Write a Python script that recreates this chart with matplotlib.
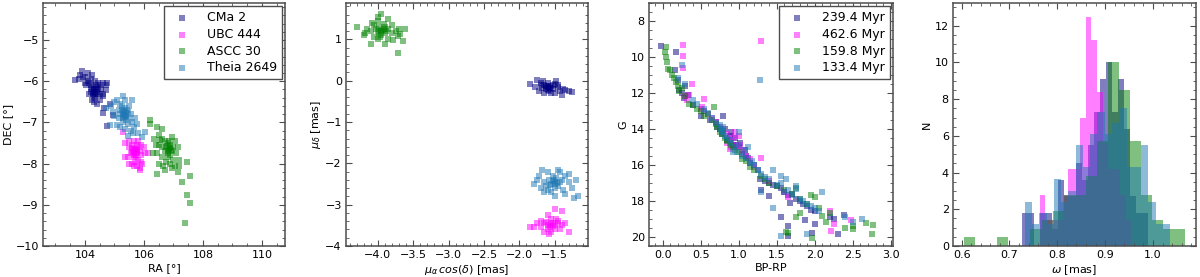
import numpy as np
import matplotlib
matplotlib.use("Agg")
import matplotlib.pyplot as plt
from matplotlib.ticker import AutoMinorLocator, MultipleLocator

# ---------------- data ----------------
names = ["CMa 2", "UBC 444", "ASCC 30", "Theia 2649"]
ages = ["239.4 Myr", "462.6 Myr", "159.8 Myr", "133.4 Myr"]
colors = ["navy", "magenta", "green", "tab:blue"]

# RA / DEC (deg)
cma2_radec = [(104.2,-6.1),(104.3,-6.2),(104.35,-6.25),(104.25,-6.15),(104.4,-6.3),(104.3,-6.35),
              (104.2,-6.25),(104.15,-6.05),(104.1,-6.0),(104.4,-6.15),(104.45,-6.2),(104.35,-6.4),
              (104.3,-6.5),(104.25,-6.45),(104.5,-6.3),(104.5,-6.1),(104.55,-6.2),(104.6,-6.3),
              (104.0,-5.9),(104.05,-6.1),(104.2,-5.95),(104.1,-5.8),(103.9,-5.75),(103.95,-5.9),
              (103.8,-5.95),(103.65,-5.97),(104.25,-5.85),(104.35,-6.0),(104.45,-6.05),(104.6,-6.05),
              (104.7,-6.1),(104.72,-6.22),(104.5,-6.45),(104.4,-6.55),(104.15,-6.3),(104.28,-6.3),
              (104.38,-6.1),(104.62,-6.35),(104.75,-6.05),(104.65,-6.65),(104.85,-6.55),(104.95,-6.83),
              (104.75,-7.08),(104.6,-6.78),(104.0,-6.05),(103.85,-5.85),
              (104.32,-6.22),(104.27,-6.28),(104.37,-6.18),(104.22,-6.18),(104.33,-6.32),(104.42,-6.25)]
ubc444_radec = [(105.7,-7.7),(105.65,-7.65),(105.75,-7.75),(105.6,-7.7),(105.8,-7.6),(105.7,-7.8),
                (105.65,-7.85),(105.55,-7.75),(105.85,-7.7),(105.75,-7.55),(105.6,-7.55),(105.5,-7.6),
                (105.9,-7.8),(105.8,-7.9),(105.7,-7.95),(105.6,-8.0),(105.5,-8.0),(105.75,-8.05),
                (105.85,-8.1),(105.65,-8.05),(105.45,-7.85),(105.35,-7.85),(106.0,-7.6),(106.05,-7.75),
                (106.15,-7.75),(105.9,-7.55),(105.5,-7.45),(105.35,-7.5),(105.65,-7.45),(105.8,-7.45),
                (105.95,-8.0),(105.7,-7.65),(105.62,-7.72),(105.78,-7.68),(105.72,-7.82),(105.58,-7.62),
                (105.85,-8.15),(105.3,-7.24),(105.9,-7.95),
                (105.68,-7.72),(105.73,-7.66),(105.66,-7.78),(105.76,-7.72)]
ascc30_radec = [(106.2,-6.93),(106.22,-7.05),(106.45,-7.12),(106.62,-7.15),(106.5,-7.3),(106.55,-7.42),
                (106.7,-7.45),(106.8,-7.5),(106.9,-7.55),(106.85,-7.65),(106.75,-7.6),(106.95,-7.7),
                (107.0,-7.6),(106.9,-7.8),(106.8,-7.75),(106.7,-7.7),(106.6,-7.6),(106.5,-7.55),
                (106.45,-7.75),(106.4,-7.55),(106.6,-7.85),(106.75,-7.95),(106.9,-8.0),(107.0,-7.9),
                (107.1,-7.75),(107.15,-7.6),(107.05,-8.05),(107.2,-8.05),(107.15,-8.2),(106.95,-8.1),
                (106.5,-8.0),(106.45,-8.25),(106.65,-8.05),(107.45,-7.95),(107.55,-8.3),(107.3,-8.45),
                (107.45,-8.75),(107.55,-8.95),(107.4,-9.45),(106.85,-7.45),(107.05,-7.45),(106.35,-7.4),
                (106.95,-7.35),(106.8,-7.85),(106.6,-7.4),(107.2,-7.9),(106.7,-8.15),(106.3,-7.75),
                (106.88,-7.62),(106.82,-7.7),(106.92,-7.66),(106.78,-7.58)]
theia_radec = [(105.3,-6.75),(105.35,-6.8),(105.25,-6.7),(105.4,-6.85),(105.3,-6.9),(105.2,-6.8),
               (105.45,-6.75),(105.35,-6.65),(105.25,-6.6),(105.4,-6.95),(105.5,-6.9),(105.15,-6.7),
               (105.3,-7.0),(105.45,-7.05),(105.55,-6.8),(105.6,-7.0),(105.2,-6.55),(105.28,-6.35),
               (105.35,-6.45),(105.6,-6.45),(105.0,-6.5),(104.9,-6.6),(104.7,-6.65),(105.1,-6.45),
               (105.0,-6.85),(104.85,-7.06),(105.08,-7.06),(105.2,-7.1),(105.65,-7.1),(105.7,-6.9),
               (105.75,-7.05),(105.92,-7.36),(106.03,-7.22),(105.64,-7.26),(105.47,-7.34),(105.35,-7.15),
               (105.5,-6.6),(104.95,-6.75),(105.15,-6.9),(105.42,-6.7),(105.32,-6.82),(105.55,-7.2),
               (105.8,-7.25),(105.33,-6.72),(105.38,-6.78),(105.28,-6.84),(105.36,-6.88)]

# proper motions (mas/yr)
cma2_pm = [(-1.85,-0.08),(-1.75,0.02),(-1.7,-0.05),(-1.65,-0.1),(-1.6,-0.15),(-1.55,-0.12),(-1.5,-0.08),
           (-1.62,-0.2),(-1.58,-0.25),(-1.52,-0.2),(-1.68,-0.18),(-1.72,-0.25),(-1.65,-0.3),(-1.55,-0.3),
           (-1.45,-0.15),(-1.42,-0.25),(-1.48,0.0),(-1.6,-0.05),(-1.35,-0.22),(-1.3,-0.25),(-1.25,-0.27),
           (-1.4,-0.35),(-1.5,-0.3),(-1.62,-0.12),(-1.57,-0.17),(-1.78,-0.15),(-1.66,0.0),(-1.53,-0.1),
           (-1.6,-0.22),(-1.45,-0.1),(-1.7,-0.1),(-1.38,-0.2),(-1.59,-0.14),(-1.56,-0.18),(-1.63,-0.16)]
ubc444_pm = [(-1.85,-3.55),(-1.8,-3.55),(-1.7,-3.4),(-1.65,-3.45),(-1.6,-3.5),(-1.55,-3.45),(-1.5,-3.5),
             (-1.6,-3.6),(-1.55,-3.65),(-1.5,-3.6),(-1.45,-3.45),(-1.4,-3.5),(-1.45,-3.4),(-1.55,-3.35),
             (-1.6,-3.25),(-1.5,-3.1),(-1.4,-3.15),(-1.7,-3.55),(-1.65,-3.65),(-1.58,-3.72),(-1.35,-3.45),
             (-1.3,-3.65),(-1.62,-3.42),(-1.52,-3.52),(-1.57,-3.55),(-1.48,-3.35),(-1.75,-3.45),(-1.42,-3.6),
             (-1.56,-3.48),(-1.53,-3.44)]
ascc30_pm = [(-4.3,1.3),(-4.2,1.1),(-4.15,1.25),(-4.1,0.88),(-4.05,1.05),(-4.05,1.35),(-4.0,1.45),
             (-4.0,1.55),(-3.95,1.62),(-3.85,1.5),(-3.9,1.3),(-3.95,1.2),(-3.9,1.15),(-3.85,1.25),
             (-4.0,1.2),(-3.95,1.1),(-3.9,0.9),(-3.85,1.0),(-3.8,1.15),(-3.75,1.2),(-3.7,1.25),
             (-3.65,0.95),(-3.62,1.25),(-3.72,1.08),(-3.71,0.67),(-3.78,0.98),(-4.0,1.0),(-4.1,1.2),
             (-3.98,1.3),(-3.92,1.38),(-4.02,1.25),(-3.88,1.2),(-3.97,1.05),(-4.08,1.4),(-3.8,1.35),
             (-4.18,1.15),(-3.68,1.12),(-3.94,1.22),(-3.99,1.16),(-3.91,1.26)]
theia_pm = [(-1.8,-2.5),(-1.72,-2.3),(-1.7,-2.6),(-1.65,-2.45),(-1.6,-2.2),(-1.58,-2.4),(-1.55,-2.5),
            (-1.5,-2.45),(-1.48,-2.35),(-1.45,-2.55),(-1.4,-2.4),(-1.42,-2.2),(-1.5,-2.6),(-1.55,-2.7),
            (-1.6,-2.65),(-1.65,-2.7),(-1.35,-2.3),(-1.3,-2.45),(-1.25,-2.6),(-1.3,-2.25),(-1.2,-2.4),
            (-1.45,-2.15),(-1.52,-2.3),(-1.62,-2.55),(-1.38,-2.65),(-1.23,-2.85),(-1.17,-2.8),(-1.35,-2.75),
            (-1.5,-2.8),(-1.68,-2.15),(-1.75,-2.4),(-1.47,-2.48),(-1.53,-2.42),(-1.57,-2.52),(-1.43,-2.45),
            (-1.49,-2.5),(-1.51,-2.4)]

# colour-magnitude diagram
cma2_bprp = [-0.02,0.18,0.16,0.2,0.22,0.3,0.25,0.28,0.33,0.4,0.5,0.55,0.62,0.7,0.75,0.8,0.78,0.85,0.9,0.92,
             0.95,1.0,1.05,1.08,1.12,1.15,1.2,1.25,1.28,1.35,1.4,1.45,1.5,1.55,1.6,1.65,1.68,1.7,1.75,1.8,
             1.85,1.9,1.95,2.0,1.3,1.4,1.55,1.65,1.65,1.87,1.97,2.0,2.3,2.38,2.25,2.2,0.72,1.02,
             0.82,0.88,0.97,1.1]
cma2_g = [9.4,9.75,10.7,11.3,11.85,11.6,12.0,12.3,12.1,12.7,13.3,13.0,13.5,13.6,14.0,13.3,14.3,14.6,14.2,14.9,
          14.5,15.0,15.4,15.2,15.6,15.9,16.0,16.3,16.8,16.9,17.0,17.1,17.2,17.3,17.5,17.7,18.1,17.6,17.9,18.0,
          18.2,18.3,18.5,18.6,17.4,17.75,18.9,19.4,19.95,19.1,19.8,19.3,19.85,18.8,19.0,18.9,13.9,14.8,
          14.0,14.4,14.9,15.5]
ubc444_bprp = [0.27,0.27,0.27,1.3,0.38,0.55,0.3,0.32,0.35,0.5,0.52,0.6,0.65,0.7,0.75,0.8,0.85,0.88,0.9,0.92,
               0.95,0.98,1.0,1.05,0.9,0.85,1.1,1.15,1.3,1.2,1.4,1.6,1.65,2.2,2.22,2.25,2.48,0.95,1.02,0.88]
ubc444_g = [9.35,9.95,10.6,9.1,11.5,12.35,12.2,12.4,12.1,12.9,12.8,13.2,13.4,13.6,13.9,14.1,14.3,14.6,14.7,14.5,
            14.9,15.0,14.4,15.2,15.0,14.8,15.5,15.7,15.65,16.1,16.9,17.5,17.8,18.6,19.7,19.3,19.05,14.2,14.9,15.1]
ascc30_bprp = [0.04,0.03,0.05,0.06,0.07,0.1,0.12,0.15,0.18,0.2,0.25,0.22,0.3,0.35,0.4,0.45,0.5,0.55,0.6,0.65,
               0.7,0.72,0.75,0.78,0.8,0.82,0.85,0.88,0.9,0.95,1.0,1.05,1.1,1.15,1.2,1.3,1.35,1.4,1.5,1.6,
               1.7,1.75,1.8,1.9,1.95,2.0,2.05,1.62,1.97,1.8,1.75,2.1,2.15,2.5,2.5,2.68,2.75,2.77,2.4,1.65,
               2.2,0.68,0.92,0.76,0.84]
ascc30_g = [9.45,9.75,10.0,10.3,10.65,10.75,11.0,11.2,11.4,11.6,11.75,11.9,12.2,12.6,12.7,12.9,13.0,13.3,13.2,13.5,
            13.75,13.9,14.0,14.3,14.1,14.5,14.6,14.8,14.9,15.2,15.3,15.7,15.8,16.1,16.3,16.6,16.8,17.0,17.2,17.4,
            17.6,17.3,17.9,18.2,17.7,17.8,18.4,19.75,20.05,18.7,18.9,18.85,19.2,19.4,19.6,19.25,19.85,19.35,19.5,19.8,
            18.7,12.8,15.0,14.2,14.7]
theia_bprp = [0.25,1.28,0.2,0.3,0.4,0.45,0.55,0.6,0.65,0.7,0.75,0.78,0.8,0.82,0.85,0.88,0.9,0.95,0.98,1.0,
              1.05,1.1,1.12,1.15,1.2,1.25,1.3,1.35,1.4,1.45,1.5,1.55,1.6,1.65,1.7,1.75,1.8,1.85,1.9,1.95,
              2.0,2.05,2.1,1.45,1.55,1.9,2.62,2.5,1.3,1.55,1.75,1.0,0.92,0.8,1.62,2.4,0.77,1.08,1.18]
theia_g = [10.45,11.3,11.2,11.5,12.4,12.6,12.9,13.1,13.4,13.7,13.8,14.1,14.2,14.4,14.5,14.6,14.8,15.0,15.3,14.9,
           15.5,15.6,15.0,15.9,16.0,16.3,16.5,16.7,16.8,16.3,17.1,17.0,17.5,17.4,17.7,17.35,17.9,18.0,18.2,18.3,
           18.4,18.6,17.5,18.4,19.95,19.85,19.0,19.2,17.5,16.65,17.2,14.2,15.3,13.9,16.8,18.9,14.0,15.2,15.8]

# parallax histograms (density): bin range + heights
cma2_hist_range = (0.727, 0.9895)
cma2_hist = [1.8,1.8,0,1.8,1.8,0.9,3.6,2.7,2.7,4.5,3.6,5.5,7.3,9.1,10.0,7.3,9.1,6.4,2.7,1.8,1.8]
ubc444_hist_range = (0.763, 0.955)
ubc444_hist = [2.8,1.4,1.4,1.4,2.8,4.2,4.2,7.0,12.5,11.2,8.4,5.6,4.2,4.2,2.8,1.4]
ascc30_hist_range = (0.605, 1.068)
ascc30_hist = [0.47,0,0,0.47,0,0,0.95,1.4,1.9,2.8,2.8,3.8,5.7,10.0,8.5,5.7,2.8,1.4,0.95,0.95]
theia_hist_range = (0.732, 1.036)
theia_hist = [2.4,1.2,1.8,1.2,3.65,2.4,3.0,5.5,4.3,6.1,7.3,6.1,6.7,7.5,4.3,4.3,5.5,2.4,1.2,1.2]

# ---------------- figure ----------------
plt.rcParams['font.family'] = ['DejaVu Sans']
fig = plt.figure(figsize=(12, 2.77), dpi=100)
W, H = 1200, 277
def box(l, r, t=3, b=246):
    return [l / W, (H - b) / H, (r - l) / W, (b - t) / H]

axes = [fig.add_axes(box(43, 285)), fig.add_axes(box(346, 588)),
        fig.add_axes(box(649, 893)), fig.add_axes(box(953, 1196))]

spine_c = '0.3'
TICK_FS = 8
LAB_FS = 8
for ax in axes:
    for s in ax.spines.values():
        s.set_color(spine_c)
        s.set_linewidth(1.1)
    ax.xaxis.set_minor_locator(AutoMinorLocator())
    ax.yaxis.set_minor_locator(AutoMinorLocator())
    ax.tick_params(which='both', direction='in', top=True, right=True, colors=spine_c,
                   labelcolor='black', labelsize=TICK_FS, pad=3)
    ax.tick_params(which='major', length=4)
    ax.tick_params(which='minor', length=2)

sc_kw = dict(marker='s', s=25, alpha=0.5, linewidths=0)
leg_kw = dict(loc='upper right', fontsize=9, scatterpoints=1, fancybox=False,
              framealpha=1, edgecolor='0.3', labelspacing=0.3, handletextpad=1.0,
              borderaxespad=0.25, borderpad=0.4)

# panel 1
ax = axes[0]
for data, c, n in zip([cma2_radec, ubc444_radec, ascc30_radec, theia_radec], colors, names):
    x, y = zip(*data)
    ax.scatter(x, y, color=c, label=n, **sc_kw)
ax.set_xlim(102.58, 110.78)
ax.set_ylim(-10, -4.1)
ax.xaxis.set_major_locator(MultipleLocator(2))
ax.set_xlabel('RA [°]', fontsize=LAB_FS, labelpad=2)
ax.set_ylabel('DEC [°]', fontsize=LAB_FS, labelpad=2)
leg = ax.legend(**leg_kw)
leg.get_frame().set_linewidth(1.0)

# panel 2
ax = axes[1]
for data, c in zip([cma2_pm, ubc444_pm, ascc30_pm, theia_pm], colors):
    x, y = zip(*data)
    ax.scatter(x, y, color=c, **sc_kw)
ax.set_xlim(-4.45, -1.03)
ax.set_ylim(-4, 1.88)
ax.set_xlabel(r'$\mu_{\alpha}\, cos(\delta)$ [mas]', fontsize=LAB_FS, labelpad=2)
ax.set_ylabel(r'$\mu_{\delta}$ [mas]', fontsize=LAB_FS, labelpad=2)

# panel 3
ax = axes[2]
for x, y, c, a in zip([cma2_bprp, ubc444_bprp, ascc30_bprp, theia_bprp],
                      [cma2_g, ubc444_g, ascc30_g, theia_g], colors, ages):
    ax.scatter(x, y, color=c, label=a, **sc_kw)
ax.set_xlim(-0.18, 3.03)
ax.set_ylim(20.52, 7.0)
ax.set_xlabel('BP-RP', fontsize=LAB_FS, labelpad=2)
ax.set_ylabel('G', fontsize=LAB_FS, labelpad=2)
leg = ax.legend(**leg_kw)
leg.get_frame().set_linewidth(1.0)

# panel 4
ax = axes[3]
for rng, h, c in zip([cma2_hist_range, ubc444_hist_range, ascc30_hist_range, theia_hist_range],
                     [cma2_hist, ubc444_hist, ascc30_hist, theia_hist], colors):
    edges = np.linspace(rng[0], rng[1], len(h) + 1)
    ax.bar(edges[:-1], h, width=np.diff(edges), align='edge', color=c, alpha=0.5, linewidth=0)
ax.set_xlim(0.582, 1.09)
ax.set_ylim(0, 13.24)
ax.set_xlabel(r'$\omega$ [mas]', fontsize=LAB_FS, labelpad=2)
ax.set_ylabel('N', fontsize=LAB_FS, labelpad=2)

fig.savefig('out.png', dpi=100)
